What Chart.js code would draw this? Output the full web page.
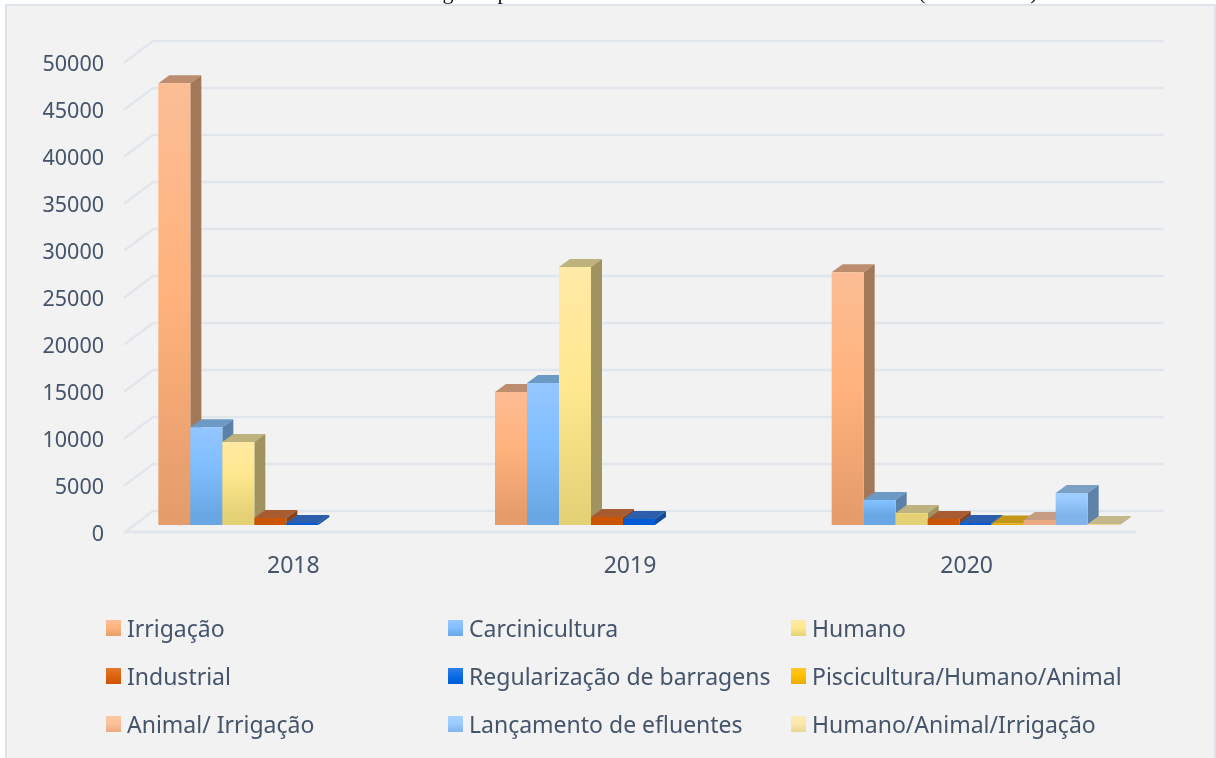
<!DOCTYPE html>
<html lang="pt">
<head>
<meta charset="utf-8">
<style>html,body{margin:0;padding:0;background:#fff;overflow:hidden}canvas{display:block}</style>
<script src="https://cdn.jsdelivr.net/npm/chart.js@4/dist/chart.umd.min.js"></script>
</head>
<body>
<div style="width:1216px;height:758px"><canvas id="c" width="1216" height="758"></canvas></div>
<script>
const categories = ['2018', '2019', '2020'];
const irrigacao = [47000, 14150, 26900];
const carcinicultura = [10400, 15100, 2660];
const humano = [8830, 27450, 1280];
const industrial = [750, 850, 640];
const regularizacao = [200, 640, 210];
const piscicultura = [null, null, 150];
const animalIrrigacao = [null, null, 530];
const lancamento = [null, null, 3400];
const humanoAnimal = [null, null, 100];
const yTicks = [0, 5000, 10000, 15000, 20000, 25000, 30000, 35000, 40000, 45000, 50000];
const seriesNames = ['Irrigação', 'Carcinicultura', 'Humano', 'Industrial', 'Regularização de barragens',
  'Piscicultura/Humano/Animal', 'Animal/ Irrigação', 'Lançamento de efluentes', 'Humano/Animal/Irrigação'];
const seriesValues = [irrigacao, carcinicultura, humano, industrial, regularizacao, piscicultura, animalIrrigacao, lancamento, humanoAnimal];
// front gradient top, middle, bottom, side face, top face
const palette = [
  ['#FBBE96', '#FFB27C', '#E59C6B', '#A27859', '#BC8E6F'],
  ['#97C8FF', '#80BEFF', '#69A7E4', '#5C81A8', '#6D99C5'],
  ['#FFE9A8', '#FFE88F', '#E4D176', '#A0935F', '#BEB27F'],
  ['#E3772C', '#DD6410', '#CC5500', '#8A4318', '#A85A30'],
  ['#2F7FE8', '#0A6CE6', '#005CD6', '#124C96', '#2C5EAC'],
  ['#FFC72A', '#FFC000', '#E8AC00', '#A07C10', '#C4961A'],
  ['#FCC8A4', '#FBC09A', '#EBAA80', '#AF8A70', '#C49C82'],
  ['#A8D2FF', '#9ACAFF', '#80B4EA', '#5E82A8', '#7CA0C4'],
  ['#FBECB6', '#F9E8AC', '#EAD690', '#A89C70', '#C4B88A']
];
const textColor = '#44546A';
const gridColor = '#E1E5EC';
const uiFont = '"Noto Sans", sans-serif';
const legendCols = [106, 448, 791];
const legendRows = [628, 676, 724];
// The value scale sits LABEL_DY below the front floor line so tick labels centre like the reference.
const LABEL_DY = 3;
const BAR_DX = 9, BAR_DY = -7 - LABEL_DY, DEPTH_X = 11, DEPTH_Y = -8, WALL_X = 28, WALL_Y = -21;

function frontGradient(c) {
  const chart = c.chart, y = chart.scales.y;
  const col = palette[c.datasetIndex];
  const v = c.parsed ? c.parsed.y : null;
  const top = y ? y.getPixelForValue(v) + BAR_DY : NaN, bottom = y ? y.getPixelForValue(0) + BAR_DY : NaN;
  if (v === null || !isFinite(top) || !isFinite(bottom)) return col[1];
  const g = chart.ctx.createLinearGradient(0, top, 0, Math.max(bottom, top + 1));
  g.addColorStop(0, col[0]); g.addColorStop(0.5, col[1]); g.addColorStop(1, col[2]);
  return g;
}

const threeD = {
  id: 'threeD',
  beforeDraw(chart) {
    const ctx = chart.ctx;
    ctx.save();
    ctx.fillStyle = '#fff'; ctx.fillRect(0, 0, 1216, 758);
    ctx.fillStyle = '#DEE4EC'; ctx.fillRect(5, 4, 1211, 754);
    ctx.fillStyle = '#F2F2F2'; ctx.fillRect(7, 6, 1207, 752);
    ctx.fillStyle = '#111';
    ctx.font = '22px "Liberation Serif", serif';
    ctx.textAlign = 'center'; ctx.textBaseline = 'alphabetic';
    [['g', 448], ['p', 503], ['(', 922], [')', 1034]].forEach(([t, x]) => ctx.fillText(t, x, -1));
    ctx.restore();
  },
  beforeDatasetsDraw(chart) {
    const ctx = chart.ctx, a = chart.chartArea, ys = chart.scales.y;
    ctx.save();
    ctx.strokeStyle = gridColor; ctx.lineWidth = 2.5; ctx.lineCap = 'round';
    ys.ticks.forEach(t => {
      const py = ys.getPixelForValue(t.value) - LABEL_DY;
      ctx.beginPath();
      ctx.moveTo(a.left, py);
      ctx.lineTo(a.left + WALL_X, py + WALL_Y);
      ctx.lineTo(a.right + WALL_X, py + WALL_Y);
      ctx.stroke();
    });
    const p0 = ys.getPixelForValue(0) - LABEL_DY;
    ctx.lineWidth = 3;
    ctx.beginPath(); ctx.moveTo(a.left, p0); ctx.lineTo(a.right, p0); ctx.stroke();
    ctx.restore();

    chart.data.datasets.forEach((ds, i) => {
      const meta = chart.getDatasetMeta(i), col = palette[i];
      meta.data.forEach((el, j) => {
        if (ds.data[j] === null) return;
        const l = el.x - el.width / 2 + BAR_DX, r = el.x + el.width / 2 + BAR_DX;
        const t = el.y + BAR_DY, b = el.base + BAR_DY;
        ctx.save();
        ctx.fillStyle = col[4];
        ctx.beginPath();
        ctx.moveTo(l, t); ctx.lineTo(l + DEPTH_X, t + DEPTH_Y); ctx.lineTo(r + DEPTH_X, t + DEPTH_Y); ctx.lineTo(r, t);
        ctx.closePath(); ctx.fill();
        ctx.fillStyle = col[3];
        ctx.beginPath();
        ctx.moveTo(r, t); ctx.lineTo(r + DEPTH_X, t + DEPTH_Y); ctx.lineTo(r + DEPTH_X, b + DEPTH_Y); ctx.lineTo(r, b);
        ctx.closePath(); ctx.fill();
        ctx.translate(BAR_DX, BAR_DY);
        el.draw(ctx);
        ctx.restore();
      });
    });
    return false;
  },
  afterDraw(chart) {
    const ctx = chart.ctx;
    ctx.save();
    ctx.textBaseline = 'middle'; ctx.textAlign = 'left';
    chart.data.datasets.forEach((ds, i) => {
      const x = legendCols[i % 3], y = legendRows[Math.floor(i / 3)], col = palette[i];
      const g = ctx.createLinearGradient(0, y - 8, 0, y + 8);
      g.addColorStop(0, col[0]); g.addColorStop(0.5, col[1]); g.addColorStop(1, col[2]);
      ctx.fillStyle = g;
      ctx.fillRect(x, y - 8, 15, 16);
      ctx.fillStyle = textColor;
      ctx.font = '23px ' + uiFont;
      ctx.fillText(ds.label, x + 21, y + 2);
    });
    ctx.restore();
  }
};

new Chart(document.getElementById('c'), {
  type: 'bar',
  data: {
    labels: categories,
    datasets: seriesNames.map((name, i) => ({
      label: name,
      data: seriesValues[i],
      backgroundColor: frontGradient,
      borderWidth: 0
    }))
  },
  options: {
    responsive: false,
    animation: false,
    events: [],
    layout: { padding: { top: 62 + LABEL_DY, right: 81, left: 0, bottom: 0 } },
    categoryPercentage: 0.8555,
    barPercentage: 1,
    plugins: { legend: { display: false }, tooltip: { enabled: false }, title: { display: false } },
    scales: {
      x: {
        grid: { display: false, drawTicks: false },
        border: { display: false },
        ticks: { color: textColor, font: { family: uiFont, size: 23 }, padding: 18, maxRotation: 0 },
        afterFit(s) { s.height = 226 - LABEL_DY; }
      },
      y: {
        min: 0, max: 50000,
        afterBuildTicks(s) { s.ticks = yTicks.map(v => ({ value: v })); },
        grid: { display: false, drawTicks: false },
        border: { display: false },
        ticks: { color: textColor, font: { family: uiFont, size: 21.5 }, padding: 21, callback: v => String(v) },
        afterFit(s) { s.width = 125; }
      }
    }
  },
  plugins: [threeD]
});
</script>
</body>
</html>
